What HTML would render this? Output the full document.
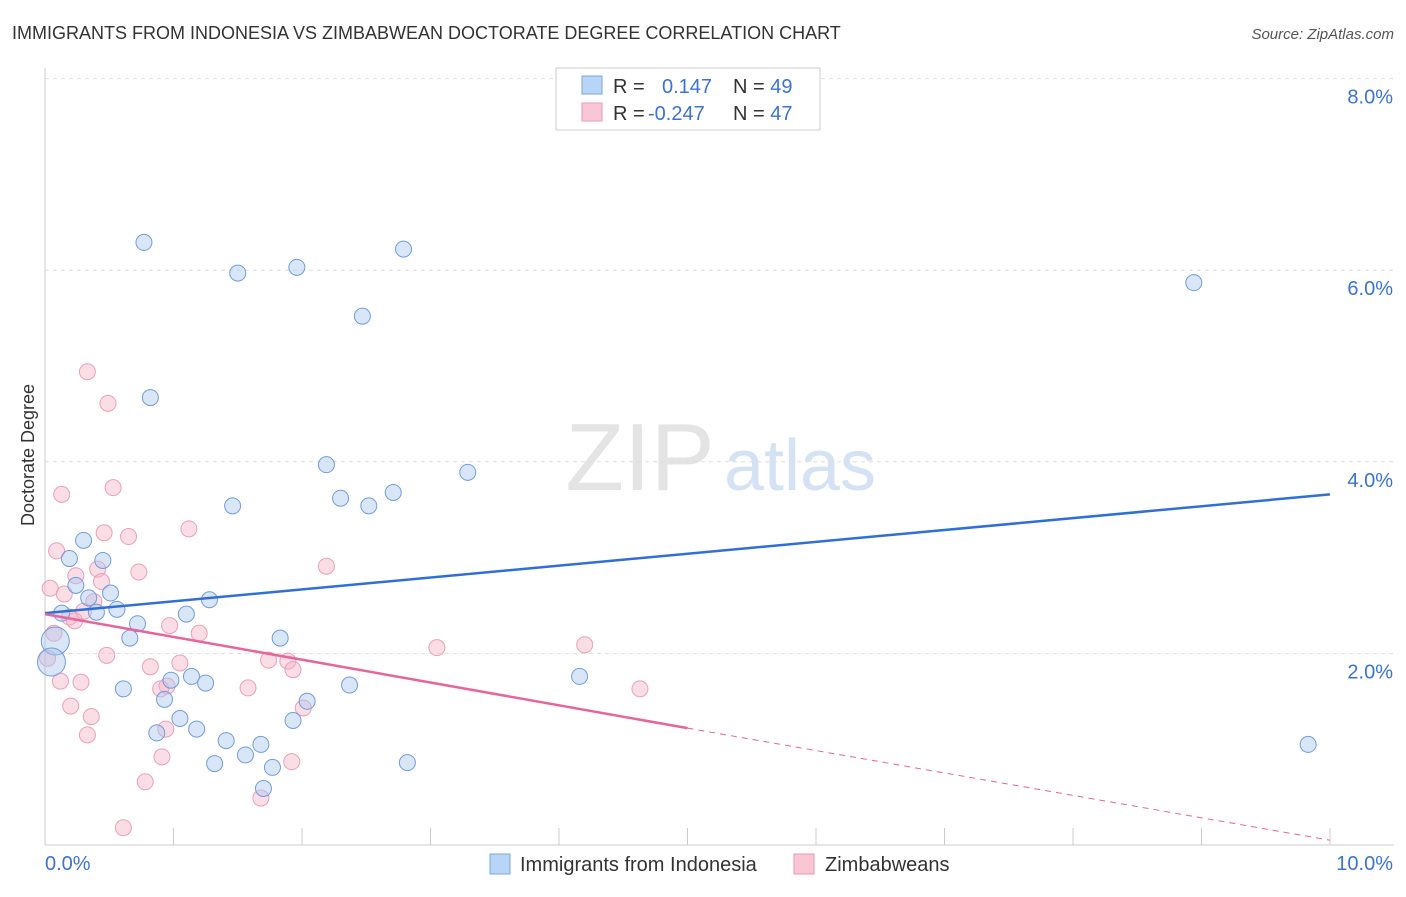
<!DOCTYPE html>
<html><head><meta charset="utf-8"><style>
body{margin:0;background:#fff;font-family:"Liberation Sans",sans-serif;}
svg text{font-family:"Liberation Sans",sans-serif;}
</style></head><body>
<svg id="chart" width="1406" height="892" xmlns="http://www.w3.org/2000/svg">
<text x="12" y="39" font-size="18" fill="#333">IMMIGRANTS FROM INDONESIA VS ZIMBABWEAN DOCTORATE DEGREE CORRELATION CHART</text>
<text x="1394" y="39" font-size="15" fill="#555" font-style="italic" text-anchor="end">Source: ZipAtlas.com</text>
<text x="640" y="490" font-size="96" fill="#e4e4e4" font-family="Liberation Serif" text-anchor="middle">ZIP</text>
<text x="800" y="490" font-size="72" fill="#d4e2f4" text-anchor="middle">atlas</text>
<text transform="translate(34,455) rotate(-90)" font-size="18" fill="#333" text-anchor="middle">Doctorate Degree</text>
<g id="grid"></g><g id="pts"></g><g id="lines"></g>
<g>
<rect x="556" y="68" width="264" height="62" fill="#fff" stroke="#ccc"/>
<rect x="582" y="76" width="20" height="18" fill="#b8d4f6" stroke="#7aa6e0"/>
<rect x="582" y="103" width="20" height="18" fill="#f9c6d6" stroke="#e89ab4"/>
<text x="613" y="93" font-size="20" fill="#333">R = <tspan fill="#3b74d0" x="662">0.147</tspan><tspan fill="#333" x="733">N = </tspan><tspan fill="#3b74d0">49</tspan></text>
<text x="613" y="120" font-size="20" fill="#333">R = <tspan fill="#3b74d0" x="648">-0.247</tspan><tspan fill="#333" x="733">N = </tspan><tspan fill="#3b74d0">47</tspan></text>
</g>
<g>
<rect x="490" y="854" width="20" height="20" fill="#b8d4f6" stroke="#7aa6e0"/>
<text x="520" y="871" font-size="20" fill="#333">Immigrants from Indonesia</text>
<rect x="794" y="854" width="20" height="20" fill="#f9c6d6" stroke="#e89ab4"/>
<text x="825" y="871" font-size="20" fill="#333">Zimbabweans</text>
</g>
</svg>
<script>
const yTicks=[2,4,6,8];
const xTickLabels=["0.0%","10.0%"];
const blueX=[0.77,1.50,1.96,2.79,2.47,8.94,0.82,2.19,3.29,1.46,2.30,2.52,2.71,0.30,0.19,0.45,0.24,0.34,0.51,0.56,0.40,0.13,1.28,1.10,0.72,0.66,1.83,0.08,0.05,1.14,0.98,1.25,0.61,2.37,0.93,2.04,4.16,1.05,1.93,0.87,1.18,1.41,1.68,1.56,1.32,1.77,2.82,1.70,9.83];
const blueY=[6.29,5.97,6.03,6.22,5.52,5.87,4.67,3.97,3.89,3.54,3.62,3.54,3.68,3.18,2.99,2.97,2.71,2.58,2.63,2.46,2.43,2.42,2.56,2.41,2.31,2.16,2.16,2.13,1.91,1.76,1.72,1.69,1.63,1.67,1.52,1.50,1.76,1.32,1.30,1.17,1.21,1.09,1.05,0.94,0.85,0.81,0.86,0.59,1.05];
const pinkX=[0.33,0.49,0.53,0.13,1.12,0.46,0.65,0.09,0.73,2.19,0.41,0.24,0.04,0.44,0.15,0.38,0.30,0.19,0.23,0.97,1.20,0.07,4.20,3.05,0.48,1.74,1.89,0.02,0.82,1.05,1.93,0.12,0.28,0.95,0.90,1.58,4.63,0.20,0.36,2.01,0.94,0.33,0.91,1.92,0.78,1.68,0.61];
const pinkY=[4.94,4.61,3.73,3.66,3.30,3.26,3.22,3.07,2.85,2.91,2.88,2.81,2.68,2.75,2.62,2.54,2.44,2.38,2.34,2.29,2.21,2.21,2.09,2.06,1.98,1.93,1.92,1.95,1.86,1.90,1.83,1.71,1.70,1.66,1.63,1.64,1.63,1.45,1.34,1.43,1.21,1.15,0.92,0.87,0.66,0.49,0.18];
const blueTrend=[2.42,3.66];
const pinkTrend=[2.41,1.22,0.05];
const sx=v=>45+v*128.5, sy=v=>845-v*95.8;
const NS="http://www.w3.org/2000/svg";
function mk(tag,attrs,parent){const e=document.createElementNS(NS,tag);for(const k in attrs)e.setAttribute(k,attrs[k]);parent.appendChild(e);return e;}
const grid=document.getElementById('grid');
const ax=mk('line',{x1:45,y1:68,x2:45,y2:845,stroke:'#ccc'},grid);


const bx=mk('line',{x1:45,y1:845,x2:1394,y2:845,stroke:'#ccc'},grid);


for(let i=0;i<=10;i++){const t=mk('line',{x1:sx(i),y1:828,x2:sx(i),y2:845,stroke:'#ccc'},grid);

}
yTicks.forEach(v=>{const l=mk('line',{x1:45,y1:sy(v),x2:1394,y2:sy(v),stroke:'#ddd','stroke-dasharray':'4,4'},grid);


const t=mk('text',{x:1393,y:sy(v)+25,'font-size':20,fill:'#3b74d0','text-anchor':'end'},grid);t.textContent=v.toFixed(1)+'%';

});
const xl0=mk('text',{x:45,y:870,'font-size':20,fill:'#3b74d0'},grid);xl0.textContent=xTickLabels[0];


const xl1=mk('text',{x:1393,y:870,'font-size':20,fill:'#3b74d0','text-anchor':'end'},grid);xl1.textContent=xTickLabels[1];


const pts=document.getElementById('pts');
pinkX.forEach((x,i)=>{const c=mk('circle',{cx:sx(x),cy:sy(pinkY[i]),r:8,fill:'rgba(246,180,200,0.45)',stroke:'#eaa0ba','stroke-width':1},pts);

});
blueX.forEach((x,i)=>{const big=(i===27||i===28);const c=mk('circle',{cx:sx(x),cy:sy(blueY[i]),r:big?14:8,fill:'rgba(170,200,240,0.45)',stroke:'#6f9ddd','stroke-width':1},pts);

});
const lines=document.getElementById('lines');
const bl=mk('line',{x1:sx(0),y1:sy(blueTrend[0]),x2:sx(10),y2:sy(blueTrend[1]),stroke:'#2f6fd6','stroke-width':2.5},lines);


const pl=mk('line',{x1:sx(0),y1:sy(pinkTrend[0]),x2:sx(5),y2:sy(pinkTrend[1]),stroke:'#e8649a','stroke-width':2.5},lines);


const pd=mk('line',{x1:sx(5),y1:sy(pinkTrend[1]),x2:sx(10),y2:sy(pinkTrend[2]),stroke:'#e8649a','stroke-width':1,'stroke-dasharray':'6,5'},lines);


</script>
</body></html>
